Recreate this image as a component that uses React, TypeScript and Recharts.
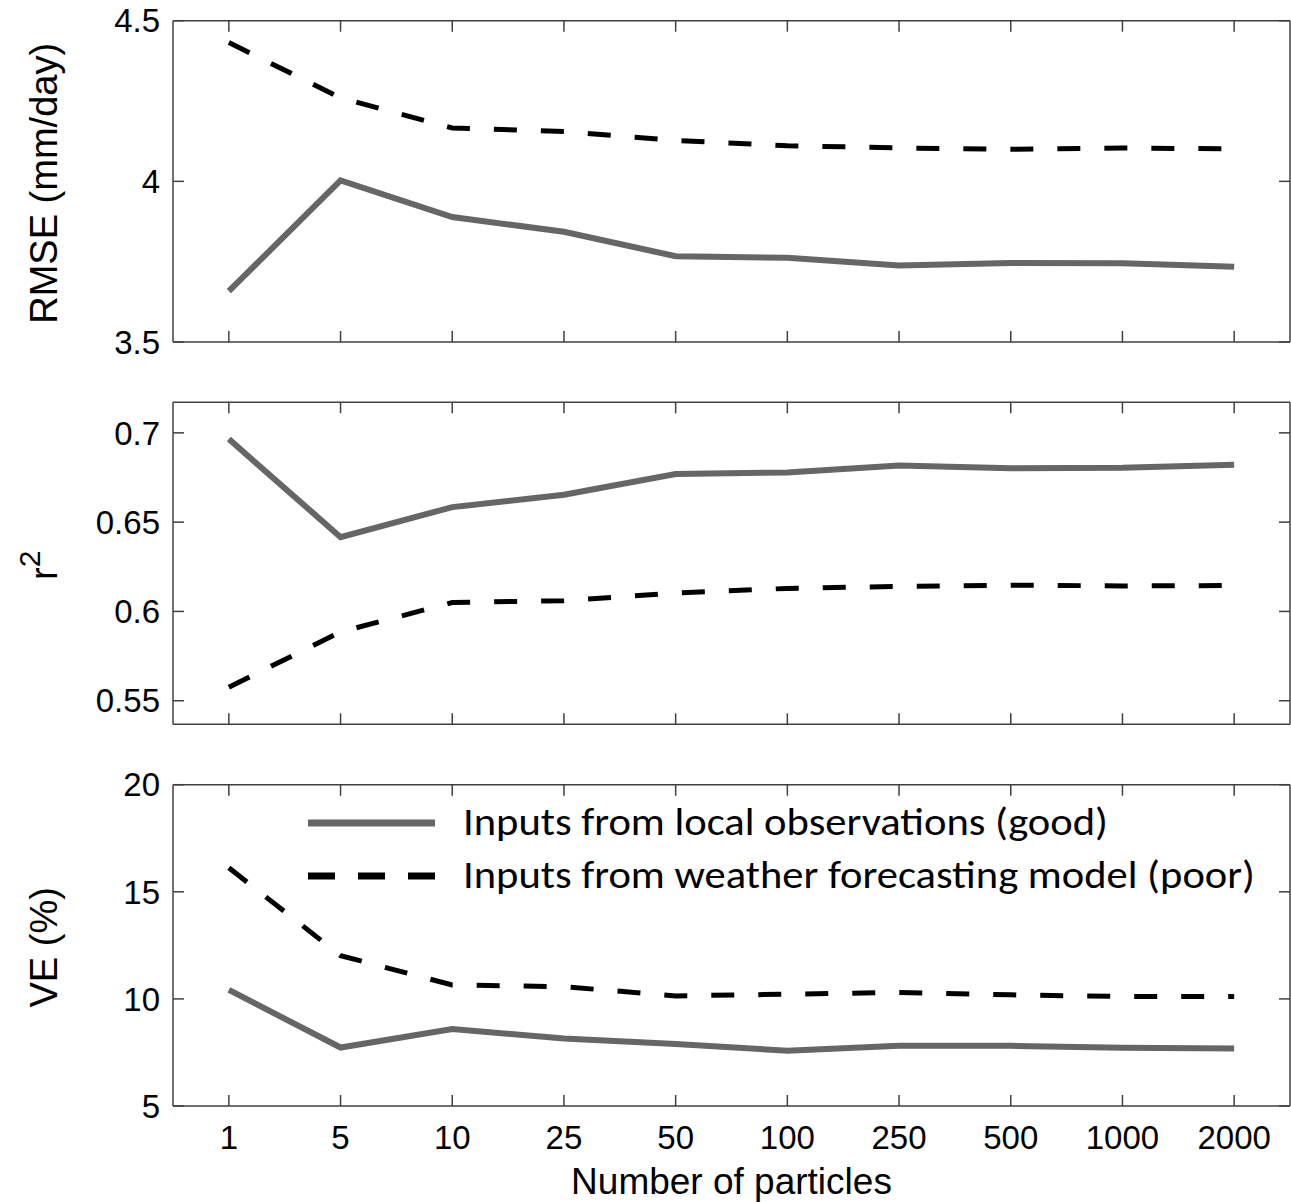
import React from 'react'
import { LineChart, Line, XAxis, YAxis, Legend } from 'recharts'

// number of particles (categorical x)
const particles = ['1', '5', '10', '25', '50', '100', '250', '500', '1000', '2000']

// RMSE (mm/day)
const rmseGood = [3.658, 4.003, 3.889, 3.843, 3.767, 3.762, 3.738, 3.746, 3.745, 3.734]
const rmsePoor = [4.432, 4.26, 4.166, 4.155, 4.127, 4.111, 4.104, 4.1, 4.104, 4.101]

// r^2
const r2Good = [0.6965, 0.6416, 0.6584, 0.6653, 0.6769, 0.6778, 0.6817, 0.6802, 0.6804, 0.6821]
const r2Poor = [0.5576, 0.5885, 0.605, 0.606, 0.6103, 0.6129, 0.614, 0.6147, 0.6143, 0.6145]

// VE (%)
const veGood = [10.42, 7.73, 8.59, 8.15, 7.89, 7.58, 7.81, 7.81, 7.72, 7.69]
const vePoor = [16.12, 12.02, 10.65, 10.57, 10.14, 10.22, 10.3, 10.19, 10.11, 10.11]

const rmseTicks = [3.5, 4, 4.5]
const r2Ticks = [0.55, 0.6, 0.65, 0.7]
const veTicks = [5, 10, 15, 20]

const legendLabels = ['Inputs from local observations (good)', 'Inputs from weather forecasting model (poor)']

const W = 1291
const AXIS = '#404040'
const FONT = '"Liberation Sans", Arial, Helvetica, sans-serif'
const GOOD = '#666666'
const POOR = '#000000'
const TICK_LEN = 11
const PAD = 55.85

const rows = (good: number[], poor: number[]) =>
  particles.map((n, i) => ({ n, good: good[i], poor: poor[i] }))

// inward tick marks, MATLAB style
function BottomTick({ x, y, payload, showLabel }: any) {
  return (
    <g>
      <line x1={x} x2={x} y1={y} y2={y - TICK_LEN} stroke={AXIS} strokeWidth={1.5} />
      {showLabel && (
        <text x={x} y={y + 20} dy="0.71em" textAnchor="middle" fontSize={33} fontFamily={FONT} fill="#000">
          {payload.value}
        </text>
      )}
    </g>
  )
}

function TopTick({ x, y }: any) {
  return <line x1={x} x2={x} y1={y} y2={y + TICK_LEN} stroke={AXIS} strokeWidth={1.5} />
}

function LeftTick({ x, y, payload }: any) {
  return (
    <g>
      <line x1={x} x2={x + TICK_LEN} y1={y} y2={y} stroke={AXIS} strokeWidth={1.5} />
      <text x={x - 13} y={y} dy="0.355em" textAnchor="end" fontSize={33} fontFamily={FONT} fill="#000">
        {payload.value}
      </text>
    </g>
  )
}

function RightTick({ x, y }: any) {
  return <line x1={x} x2={x - TICK_LEN} y1={y} y2={y} stroke={AXIS} strokeWidth={1.5} />
}

function YTitle({ viewBox, children }: any) {
  const vb = viewBox || { y: 20, height: 322 }
  const cy = vb.y + vb.height / 2 + 2
  return (
    <text x={57} y={cy} transform={`rotate(-90, 57, ${cy})`} textAnchor="middle"
      fontSize={38} fontFamily={FONT} fill="#000">
      {children}
    </text>
  )
}

function renderLegend() {
  return (
    <svg width={W} height={150} style={{ display: 'block' }}>
      <line x1={308} x2={435} y1={59} y2={59} stroke={GOOD} strokeWidth={7} />
      <line x1={308} x2={435} y1={112} y2={112} stroke={POOR} strokeWidth={7} strokeDasharray="27 23" />
      <text x={463} y={71} fontSize={39} fontFamily="Carlito, Calibri, Lato, sans-serif" fill="#000"
        textLength={645} lengthAdjust="spacingAndGlyphs">{legendLabels[0]}</text>
      <text x={463} y={124} fontSize={39} fontFamily="Carlito, Calibri, Lato, sans-serif" fill="#000"
        textLength={792} lengthAdjust="spacingAndGlyphs">{legendLabels[1]}</text>
    </svg>
  )
}

interface PanelProps {
  top: number
  height: number
  marginTop: number
  xHeight: number
  data: { n: string; good: number; poor: number }[]
  domain: [number, number]
  ticks: number[]
  title: React.ReactNode
  bottomLabels?: boolean
  legend?: boolean
}

function Panel({ top, height, marginTop, xHeight, data, domain, ticks, title, bottomLabels, legend }: PanelProps) {
  const axisLine = { stroke: AXIS, strokeWidth: 1.5 }
  return (
    <div style={{ position: 'absolute', left: 0, top }}>
      <LineChart width={W} height={height} data={data}
        margin={{ top: marginTop - 1, right: 0, bottom: 0, left: 0 }}>
        <XAxis xAxisId="b" dataKey="n" type="category" height={xHeight} interval={0}
          padding={{ left: PAD, right: PAD }}
          axisLine={axisLine} tickLine={false} tickSize={0} tickMargin={0}
          tick={(p: any) => <BottomTick {...p} showLabel={bottomLabels} />}
          label={bottomLabels ? { value: 'Number of particles', position: 'insideBottom', offset: 8, fontSize: 37, fill: '#000', fontFamily: FONT } : undefined} />
        <XAxis xAxisId="t" dataKey="n" type="category" orientation="top" height={1} interval={0}
          padding={{ left: PAD, right: PAD }}
          axisLine={axisLine} tickLine={false} tickSize={0} tickMargin={0} tick={(p: any) => <TopTick {...p} />} />
        <YAxis yAxisId="l" type="number" width={173} domain={domain} ticks={ticks} allowDataOverflow
          axisLine={axisLine} tickLine={false} tickSize={0} tickMargin={0} tick={(p: any) => <LeftTick {...p} />}
          label={(p: any) => <YTitle viewBox={p.viewBox}>{title}</YTitle>} />
        <YAxis yAxisId="r" type="number" orientation="right" width={1} domain={domain} ticks={ticks} allowDataOverflow
          axisLine={axisLine} tickLine={false} tickSize={0} tickMargin={0} tick={(p: any) => <RightTick {...p} />} />
        <Line xAxisId="b" yAxisId="l" type="linear" dataKey="good" stroke={GOOD} strokeWidth={6}
          dot={false} activeDot={false} isAnimationActive={false} />
        <Line xAxisId="b" yAxisId="l" type="linear" dataKey="poor" stroke={POOR} strokeWidth={5}
          strokeDasharray="23 24" dot={false} activeDot={false} isAnimationActive={false} />
        {legend && (
          <Legend layout="horizontal" verticalAlign="middle" align="center" content={renderLegend}
            wrapperStyle={{ left: 0, top: 0, width: W, height: 150 }} />
        )}
      </LineChart>
    </div>
  )
}

export default function App() {
  return (
    <div style={{ position: 'absolute', left: 0, top: 0, width: W, height: 1202, background: '#fff' }}>
      <Panel top={0} height={360} marginTop={20.7} xHeight={18} data={rows(rmseGood, rmsePoor)}
        domain={[3.5, 4.5]} ticks={rmseTicks} title="RMSE (mm/day)" />
      <Panel top={382} height={360} marginTop={20.3} xHeight={17.7} data={rows(r2Good, r2Poor)}
        domain={[0.5368, 0.7171]} ticks={r2Ticks}
        title={<>r<tspan dy={-17} fontSize={30}>2</tspan></>} />
      <Panel top={764} height={438} marginTop={20.7} xHeight={96} data={rows(veGood, vePoor)}
        domain={[5, 20]} ticks={veTicks} title="VE (%)" bottomLabels legend />
    </div>
  )
}
